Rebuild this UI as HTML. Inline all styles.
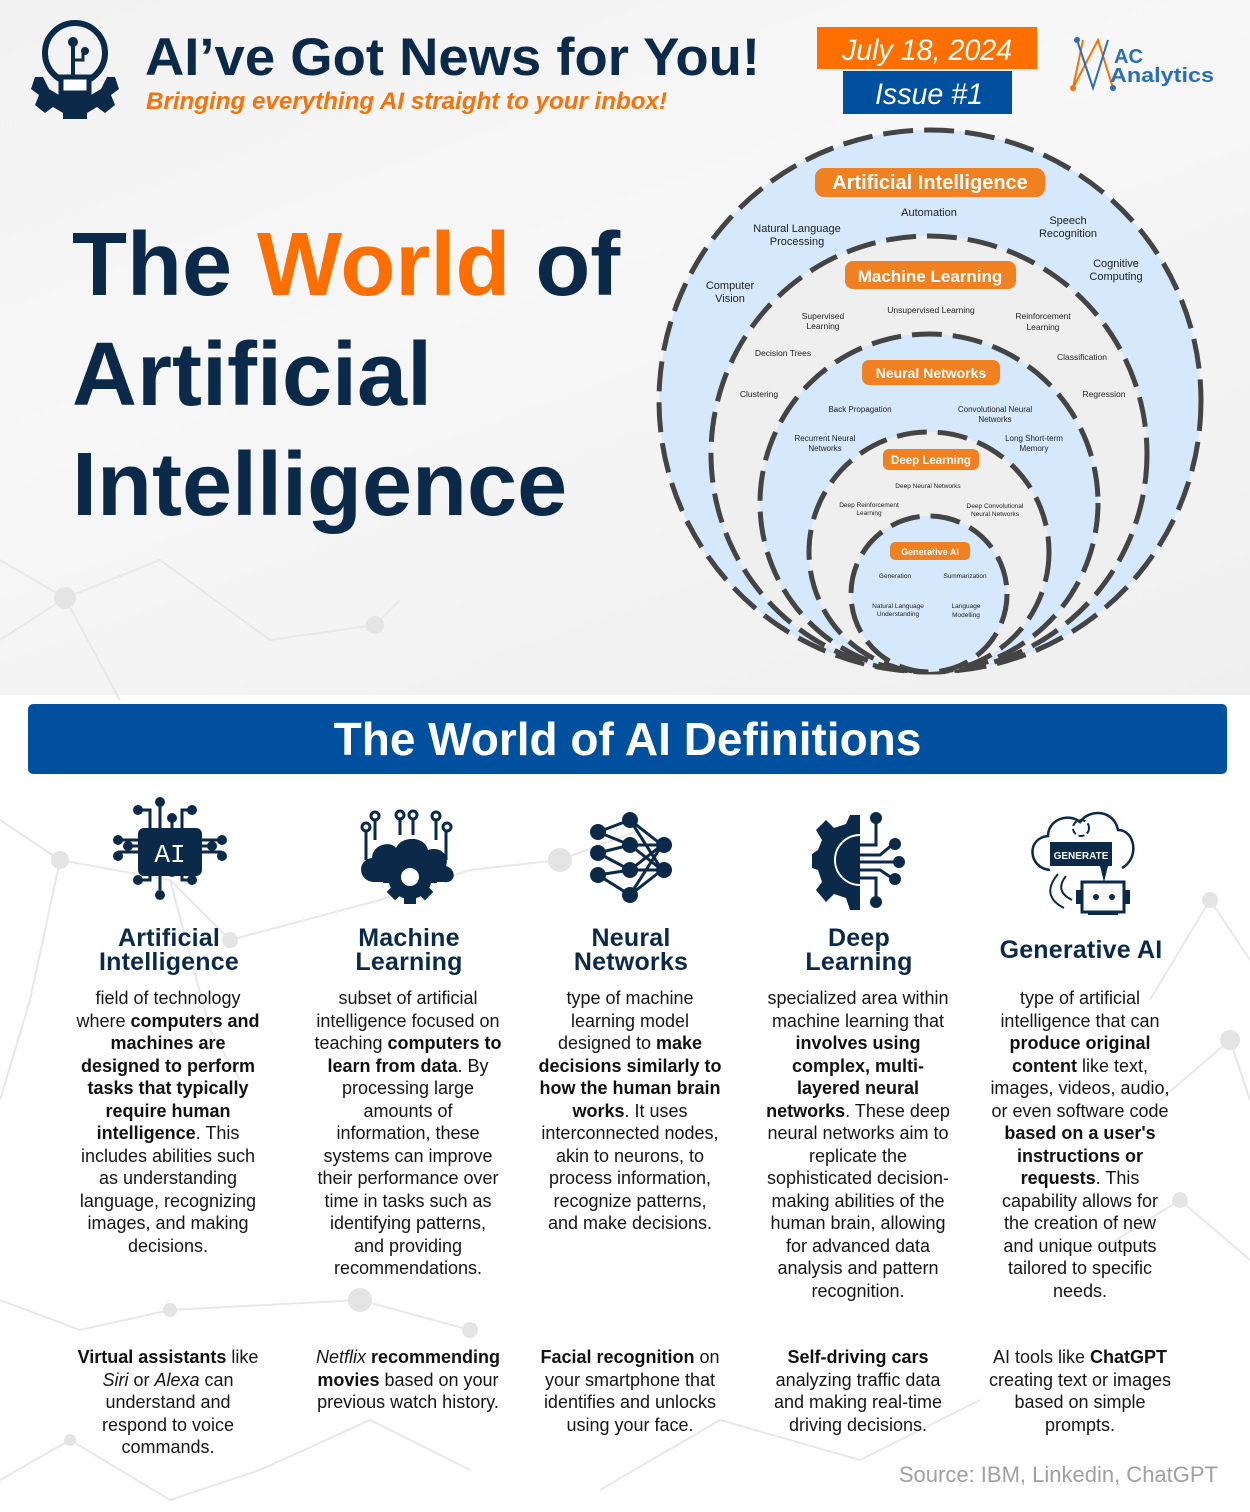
<!DOCTYPE html>
<html><head><meta charset="utf-8">
<style>
*{margin:0;padding:0;box-sizing:border-box}
body{width:1250px;height:1512px;position:relative;overflow:hidden;background:#fff;font-family:"Liberation Sans",sans-serif;color:#111}
.abs{position:absolute}
.col{position:absolute;width:280px;text-align:center;font-size:18px;line-height:22.5px;white-space:nowrap;color:#151515}
.col b{font-weight:bold;color:#111}
.ct{position:absolute;width:280px;text-align:center;font-size:25px;line-height:24px;font-weight:bold;color:#0b2a4a;letter-spacing:0.2px}
</style></head><body>
<!-- background -->
<div class="abs" style="left:0;top:0;width:1250px;height:695px;background:linear-gradient(160deg,#f2f2f2 0%,#f7f7f7 40%,#efefef 100%)"></div>
<svg class="abs" style="left:0;top:0" width="1250" height="1512">
<g stroke="#e8e8e8" stroke-width="2" fill="none">
<polyline points="0,560 65,598 160,560 270,640 375,625 400,600"/>
<polyline points="0,640 65,598 120,700"/>
<polyline points="0,820 60,860 170,880 230,940 380,900 470,870 560,860 640,830"/>
<polyline points="60,860 30,1000 0,1100"/>
<polyline points="170,880 210,1030 240,1080"/>
<polyline points="0,1300 80,1330 170,1310 360,1300 470,1330"/>
<polyline points="0,1480 70,1440 170,1500 260,1470 370,1420 470,1470"/>
<polyline points="600,1490 720,1420 860,1460 980,1400"/>
<polyline points="1150,1000 1210,900 1250,960"/>
<polyline points="1160,1100 1230,1040 1250,1100"/>
<polyline points="1100,1250 1180,1200 1250,1260"/>
</g>
<g fill="#e4e4e4">
<circle cx="65" cy="598" r="11"/><circle cx="375" cy="625" r="9"/><circle cx="60" cy="860" r="9"/>
<circle cx="230" cy="940" r="8"/><circle cx="560" cy="860" r="12"/><circle cx="170" cy="1310" r="7"/>
<circle cx="360" cy="1300" r="12"/><circle cx="470" cy="1330" r="8"/><circle cx="70" cy="1440" r="6"/>
<circle cx="1210" cy="900" r="8"/><circle cx="1180" cy="1200" r="8"/><circle cx="1230" cy="1040" r="10"/>
</g>
</svg>

<!-- Header logo icon -->
<svg class="abs" style="left:25px;top:15px" width="100" height="105" viewBox="0 0 100 105">
<path d="M18,62 L10,62 L6,74 L14,80 L10,90 L20,98 L28,92 L38,98 L38,104 L62,104 L62,98 L72,92 L80,98 L90,90 L86,80 L94,74 L90,62 L82,62 L76,74 L66,80 L34,80 L24,74Z" fill="#0b2a4a"/>
<circle cx="50" cy="38" r="30" fill="none" stroke="#0b2a4a" stroke-width="6"/>
<rect x="36" y="62" width="28" height="16" fill="#fff" stroke="#0b2a4a" stroke-width="5"/>
<line x1="48" y1="30" x2="48" y2="64" stroke="#0b2a4a" stroke-width="4"/>
<circle cx="48" cy="27" r="5" fill="#0b2a4a"/>
<path d="M48,45 L58,45 L58,38" fill="none" stroke="#0b2a4a" stroke-width="3"/>
<circle cx="60" cy="36" r="4" fill="#0b2a4a"/>
</svg>
<svg class="abs" style="left:0;top:0" width="1250" height="130">
<text x="145" y="75" font-family="Liberation Sans" font-weight="bold" font-size="53" fill="#0b2a4a" textLength="615" lengthAdjust="spacingAndGlyphs">AI’ve Got News for You!</text>
<text x="146" y="109" font-family="Liberation Sans" font-weight="bold" font-style="italic" font-size="24" fill="#f5730a" textLength="521" lengthAdjust="spacingAndGlyphs">Bringing everything AI straight to your inbox!</text>
<rect x="817" y="27" width="220" height="42" fill="#fe6f00"/>
<text x="927" y="60" text-anchor="middle" font-family="Liberation Sans" font-style="italic" font-size="30" fill="#fff" textLength="170" lengthAdjust="spacingAndGlyphs">July 18, 2024</text>
<rect x="843" y="71" width="169" height="43" fill="#0050a0"/>
<text x="929" y="104" text-anchor="middle" font-family="Liberation Sans" font-style="italic" font-size="30" fill="#fff" textLength="108" lengthAdjust="spacingAndGlyphs">Issue #1</text>
<g stroke="#f5730a" stroke-width="2" fill="none"><polyline points="1083,40 1073,88 1098,40 1113,88"/></g>
<g stroke="#2a6fb5" stroke-width="2" fill="none"><polyline points="1077,40 1093,88 1108,40"/></g>
<circle cx="1077" cy="40" r="3" fill="#2a6fb5"/><circle cx="1073" cy="88" r="3" fill="#f5730a"/><circle cx="1113" cy="88" r="3" fill="#2a6fb5"/>
<text x="1114" y="63" font-family="Liberation Sans" font-weight="bold" font-size="20" fill="#2a6fb5">AC</text>
<text x="1110" y="82" font-family="Liberation Sans" font-weight="bold" font-size="20" fill="#2a6fb5" textLength="104" lengthAdjust="spacingAndGlyphs">Analytics</text>
</svg>

<!-- Big title -->
<div class="abs" style="left:72px;top:210px;font-size:90px;line-height:110px;font-weight:bold;color:#0b2a4a;white-space:nowrap">The <span style="color:#fe6f00">World</span> of<br>Artificial<br>Intelligence</div>

<!-- Diagram -->
<svg class="abs" style="left:0;top:0" width="1250" height="700" font-family="Liberation Sans">
<g stroke="#444" stroke-width="5" stroke-dasharray="30 11">
<circle cx="930" cy="401" r="271" fill="#d6e8fb"/>
<circle cx="929" cy="454" r="218" fill="#efefef"/>
<circle cx="929" cy="503" r="169" fill="#d6e8fb"/>
<circle cx="929" cy="552" r="120" fill="#efefef"/>
<circle cx="929" cy="594" r="78" fill="#d6e8fb"/>
</g>
<g fill="#f08020">
<rect x="815" y="168" width="230" height="29" rx="9"/>
<rect x="845" y="261" width="171" height="28" rx="8"/>
<rect x="862" y="360" width="138" height="25" rx="7"/>
<rect x="883" y="449" width="96" height="21" rx="6"/>
<rect x="890" y="542" width="80" height="18" rx="5"/>
</g>
<g fill="#fff" font-weight="bold" text-anchor="middle">
<text x="930" y="189" font-size="20">Artificial Intelligence</text>
<text x="930" y="282" font-size="17">Machine Learning</text>
<text x="931" y="378" font-size="14">Neural Networks</text>
<text x="931" y="464" font-size="11.5">Deep Learning</text>
<text x="930" y="555" font-size="9">Generative AI</text>
</g>
<g fill="#222" text-anchor="middle" font-size="11">
<text x="929" y="216">Automation</text>
<text x="797" y="232">Natural Language</text><text x="797" y="245">Processing</text>
<text x="1068" y="224">Speech</text><text x="1068" y="237">Recognition</text>
<text x="1116" y="267">Cognitive</text><text x="1116" y="280">Computing</text>
<text x="730" y="289">Computer</text><text x="730" y="302">Vision</text>
</g>
<g fill="#222" text-anchor="middle" font-size="8.5">
<text x="823" y="319">Supervised</text><text x="823" y="329">Learning</text>
<text x="931" y="313">Unsupervised Learning</text>
<text x="1043" y="319">Reinforcement</text><text x="1043" y="330">Learning</text>
<text x="783" y="356">Decision Trees</text>
<text x="1082" y="360">Classification</text>
<text x="759" y="397">Clustering</text>
<text x="1104" y="397">Regression</text>
</g>
<g fill="#222" text-anchor="middle" font-size="8">
<text x="860" y="412">Back Propagation</text>
<text x="995" y="412">Convolutional Neural</text><text x="995" y="422">Networks</text>
<text x="825" y="441">Recurrent Neural</text><text x="825" y="451">Networks</text>
<text x="1034" y="441">Long Short-term</text><text x="1034" y="451">Memory</text>
</g>
<g fill="#222" text-anchor="middle" font-size="6.5">
<text x="928" y="488">Deep Neural Networks</text>
<text x="869" y="507">Deep Reinforcement</text><text x="869" y="515">Learning</text>
<text x="995" y="508">Deep Convolutional</text><text x="995" y="516">Neural Networks</text>
<text x="895" y="578">Generation</text>
<text x="965" y="578">Summarization</text>
<text x="898" y="608">Natural Language</text><text x="898" y="616">Understanding</text>
<text x="966" y="608">Language</text><text x="966" y="617">Modelling</text>
</g>
</svg>

<!-- Banner -->
<div class="abs" style="left:28px;top:704px;width:1199px;height:70px;background:#0050a0;border-radius:5px;color:#fff;font-weight:bold;font-size:46px;line-height:70px;text-align:center">The World of AI Definitions</div>

<!-- Icons -->
<svg class="abs" style="left:0;top:790px" width="1250" height="130" fill="#0b2a4a">
<!-- AI chip -->
<g>
<g stroke="#0b2a4a" stroke-width="3" fill="none">
<path d="M150,40 V20 H138 M160,40 V12 M172,40 V28 M182,40 V20 H192 M150,70 V90 H138 M160,70 V100 M172,70 V82 M182,70 V90 H192 M140,50 H118 M140,62 H118 M140,56 H128 M200,50 H222 M200,62 H222 M200,56 H212"/>
</g>
<rect x="138" y="38" width="64" height="48" rx="6"/>
<text x="170" y="72" text-anchor="middle" font-family="Liberation Mono" font-size="26" fill="#fff">AI</text>
<circle cx="138" cy="20" r="5"/><circle cx="160" cy="12" r="5"/><circle cx="172" cy="28" r="5"/><circle cx="192" cy="20" r="5"/>
<circle cx="138" cy="90" r="5"/><circle cx="160" cy="105" r="5"/><circle cx="172" cy="82" r="5"/><circle cx="192" cy="90" r="5"/>
<circle cx="118" cy="50" r="5"/><circle cx="118" cy="66" r="5"/><circle cx="128" cy="56" r="5"/>
<circle cx="222" cy="50" r="5"/><circle cx="222" cy="66" r="5"/><circle cx="212" cy="56" r="5"/>
</g>
<!-- ML cloud gear -->
<g>
<g stroke="#0b2a4a" stroke-width="3" fill="none">
<path d="M366,40 V70 M375,30 V50 M400,30 V45 M413,30 V45 M436,30 V50 M446,40 V70"/>
<circle cx="366" cy="37" r="4"/><circle cx="375" cy="26" r="4"/><circle cx="400" cy="25" r="4"/><circle cx="413" cy="25" r="4"/><circle cx="436" cy="26" r="4"/><circle cx="447" cy="37" r="4"/>
</g>
<path d="M375,92 C358,92 356,70 372,68 C372,55 390,50 396,58 C402,45 425,46 428,60 C440,56 450,65 446,76 C458,80 455,94 444,92Z"/>
<circle cx="410" cy="87" r="22"/>
<g fill="#0b2a4a"><rect x="404" y="60" width="12" height="54"/><rect x="383" y="81" width="54" height="12"/><rect x="404" y="60" width="12" height="54" transform="rotate(45 410 87)"/><rect x="404" y="60" width="12" height="54" transform="rotate(-45 410 87)"/></g>
<circle cx="410" cy="87" r="9" fill="#fff"/>
</g>
<!-- Neural net -->
<g>
<g stroke="#0b2a4a" stroke-width="3">
<path d="M598,42 L630,30 M598,42 L630,55 M598,63 L630,55 M598,63 L630,80 M598,85 L630,80 M598,85 L630,105 M630,30 L662,55 M630,30 L662,80 M630,55 L662,55 M630,55 L662,80 M630,80 L662,55 M630,80 L662,80 M630,105 L662,80 M630,105 L662,55"/>
</g>
<circle cx="598" cy="42" r="8"/><circle cx="598" cy="63" r="8"/><circle cx="598" cy="85" r="8"/>
<circle cx="630" cy="30" r="8"/><circle cx="630" cy="55" r="8"/><circle cx="630" cy="80" r="8"/><circle cx="630" cy="105" r="8"/>
<circle cx="664" cy="55" r="8"/><circle cx="664" cy="80" r="8"/>
</g>
<!-- Deep learning gear -->
<g>
<path d="M860,25 L860,120 L850,120 L846,108 L834,104 L826,112 L816,100 L822,92 L818,80 L812,78 L812,64 L818,60 L822,50 L816,40 L826,30 L834,38 L846,34 L850,25Z"/>
<path d="M860,45 A22,22 0 0,0 860,95" fill="none" stroke="#fff" stroke-width="2"/>
<g stroke="#0b2a4a" stroke-width="3" fill="none"><path d="M860,55 H876 V30 M860,65 H880 L892,55 M860,72 H896 M860,80 H880 L892,88 M860,88 H876 V110"/></g>
<circle cx="876" cy="28" r="6"/><circle cx="895" cy="54" r="6"/><circle cx="899" cy="72" r="6"/><circle cx="895" cy="89" r="6"/><circle cx="876" cy="112" r="6"/>
</g>
<!-- Generative -->
<g>
<path d="M1050,80 C1028,78 1026,48 1048,46 C1048,30 1068,22 1080,32 C1090,18 1114,20 1118,40 C1135,40 1140,68 1122,78" fill="none" stroke="#0b2a4a" stroke-width="2.5"/>
<rect x="1050" y="52" width="62" height="24"/>
<text x="1081" y="69" text-anchor="middle" font-family="Liberation Sans" font-weight="bold" font-size="10" fill="#fff">GENERATE</text>
<path d="M1100,76 L1104,92 L1108,76Z"/>
<rect x="1082" y="92" width="42" height="30" fill="#fff" stroke="#0b2a4a" stroke-width="3"/>
<circle cx="1096" cy="107" r="3"/><circle cx="1112" cy="107" r="3"/>
<rect x="1076" y="100" width="6" height="14"/><rect x="1124" y="100" width="6" height="14"/>
<rect x="1088" y="122" width="30" height="3"/>
<circle cx="1081" cy="38" r="8" fill="none" stroke="#0b2a4a" stroke-width="2" stroke-dasharray="6 3"/>
<path d="M1058,84 C1046,98 1048,110 1064,118 M1066,86 C1058,96 1060,104 1072,110" fill="none" stroke="#0b2a4a" stroke-width="2"/>
</g>
</svg>

<!-- Column titles -->
<div class="ct" style="left:29px;top:926px">Artificial<br>Intelligence</div>
<div class="ct" style="left:269px;top:926px">Machine<br>Learning</div>
<div class="ct" style="left:491px;top:926px">Neural<br>Networks</div>
<div class="ct" style="left:719px;top:926px">Deep<br>Learning</div>
<div class="ct" style="left:941px;top:938px">Generative AI</div>

<!-- Column texts -->
<div class="col" style="left:28px;top:987px">field of technology<br>where <b>computers and</b><br><b>machines are</b><br><b>designed to perform</b><br><b>tasks that typically</b><br><b>require human</b><br><b>intelligence</b>. This<br>includes abilities such<br>as understanding<br>language, recognizing<br>images, and making<br>decisions.</div>
<div class="col" style="left:268px;top:987px">subset of artificial<br>intelligence focused on<br>teaching <b>computers to</b><br><b>learn from data</b>. By<br>processing large<br>amounts of<br>information, these<br>systems can improve<br>their performance over<br>time in tasks such as<br>identifying patterns,<br>and providing<br>recommendations.</div>
<div class="col" style="left:490px;top:987px">type of machine<br>learning model<br>designed to <b>make</b><br><b>decisions similarly to</b><br><b>how the human brain</b><br><b>works</b>. It uses<br>interconnected nodes,<br>akin to neurons, to<br>process information,<br>recognize patterns,<br>and make decisions.</div>
<div class="col" style="left:718px;top:987px">specialized area within<br>machine learning that<br><b>involves using</b><br><b>complex, multi-</b><br><b>layered neural</b><br><b>networks</b>. These deep<br>neural networks aim to<br>replicate the<br>sophisticated decision-<br>making abilities of the<br>human brain, allowing<br>for advanced data<br>analysis and pattern<br>recognition.</div>
<div class="col" style="left:940px;top:987px">type of artificial<br>intelligence that can<br><b>produce original</b><br><b>content</b> like text,<br>images, videos, audio,<br>or even software code<br><b>based on a user's</b><br><b>instructions or</b><br><b>requests</b>. This<br>capability allows for<br>the creation of new<br>and unique outputs<br>tailored to specific<br>needs.</div>

<!-- Examples -->
<div class="col" style="left:28px;top:1346px"><b>Virtual assistants</b> like<br><i>Siri</i> or <i>Alexa</i> can<br>understand and<br>respond to voice<br>commands.</div>
<div class="col" style="left:268px;top:1346px"><i>Netflix</i> <b>recommending</b><br><b>movies</b> based on your<br>previous watch history.</div>
<div class="col" style="left:490px;top:1346px"><b>Facial recognition</b> on<br>your smartphone that<br>identifies and unlocks<br>using your face.</div>
<div class="col" style="left:718px;top:1346px"><b>Self-driving cars</b><br>analyzing traffic data<br>and making real-time<br>driving decisions.</div>
<div class="col" style="left:940px;top:1346px">AI tools like <b>ChatGPT</b><br>creating text or images<br>based on simple<br>prompts.</div>

<div class="abs" style="right:32px;top:1462px;font-size:22px;color:#a0a0a0;white-space:nowrap">Source: IBM, Linkedin, ChatGPT</div>
</body></html>
